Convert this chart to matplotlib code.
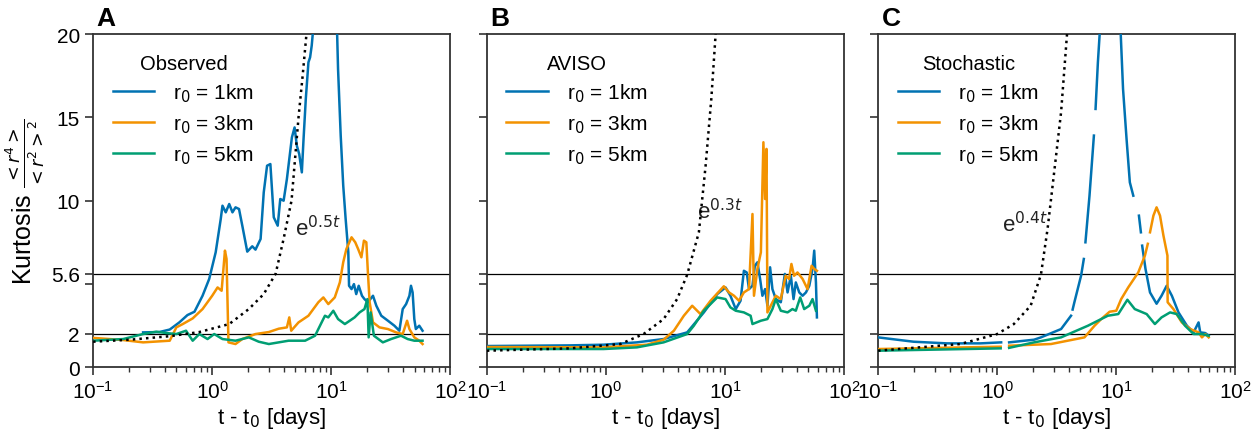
import numpy as np
import matplotlib.pyplot as plt

plt.rcParams['font.family'] = ['Liberation Sans', 'DejaVu Sans']
plt.rcParams['mathtext.fontset'] = 'dejavusans'

nan = np.nan

# ---- Panel A: observed drifters ----
obs_t_1km = [0.263, 0.36, 0.44, 0.53, 0.62, 0.71, 0.83, 0.944, 1.07, 1.18, 1.22, 1.30, 1.39, 1.48,
             1.57, 1.68, 1.79, 1.97, 2.17, 2.31, 2.55, 2.71, 2.89, 3.08, 3.29, 3.55, 3.73, 3.98,
             4.24, 4.67, 4.92, 5.14, 5.38, 5.66, 5.85, 6.11, 6.43, 6.64, 6.85, 7.3, 8.5, 10.5,
             11.2, 11.4, 12.0, 12.6, 13.2, 13.9, 14.1, 14.8, 15.5, 16.2, 17.0, 18.1, 19.0, 20.3,
             22.4, 23.9, 26.3, 29.9, 33.9, 37.3, 39.8, 42.5, 45.3, 46.7, 48.2, 49.8, 51.3, 54.8, 58.4]
obs_k_1km = [2.08, 2.1, 2.25, 2.68, 3.12, 3.32, 4.28, 5.29, 6.89, 8.89, 9.69, 9.29, 9.79, 9.29,
             9.59, 9.49, 8.49, 6.93, 7.25, 7.05, 7.69, 10.49, 12.09, 12.19, 8.99, 8.49, 10.09, 9.99,
             11.29, 13.79, 14.39, 13.29, 12.79, 11.69, 13.69, 16.1, 18.3, 18.6, 19.3, 21.5, 26.0, 24.0,
             20.0, 17.9, 13.9, 10.9, 8.9, 6.9, 4.88, 4.68, 4.98, 4.38, 4.88, 4.28, 4.08, 3.89,
             4.28, 3.68, 3.08, 2.78, 2.48, 2.18, 3.48, 3.78, 4.28, 4.88, 4.48, 2.88, 2.28, 2.48, 2.18]

obs_t_3km = [0.1, 0.179, 0.263, 0.44, 0.50, 0.566, 0.686, 0.83, 1.0, 1.11, 1.2, 1.28, 1.32, 1.37,
             1.57, 1.79, 2.31, 2.99, 3.62, 4.24, 4.44, 4.61, 5.31, 6.43, 7.79, 8.58, 9.44, 10.7,
             11.8, 12.6, 13.4, 14.8, 15.9, 16.8, 17.9, 18.8, 19.7, 20.3, 21.0, 22.4, 25.4, 29.9,
             35.0, 39.8, 43.3, 45.3, 49.8, 54.8, 58.4]
obs_k_3km = [1.75, 1.62, 1.48, 1.58, 2.38, 2.58, 2.92, 3.48, 4.28, 4.78, 4.58, 6.99, 6.49, 1.48,
             1.38, 1.68, 1.98, 2.1, 2.3, 2.38, 2.98, 2.18, 2.68, 3.08, 3.89, 4.18, 3.78, 4.18,
             5.08, 6.29, 7.09, 7.79, 7.49, 7.09, 6.59, 7.59, 7.49, 5.68, 3.88, 2.68, 2.38, 2.28,
             2.08, 1.98, 2.78, 2.28, 1.78, 1.58, 1.38]

obs_t_5km = [0.1, 0.179, 0.263, 0.339, 0.411, 0.50, 0.603, 0.686, 0.78, 0.914, 1.04, 1.22, 1.57,
             2.03, 2.46, 2.99, 4.38, 6.03, 7.31, 8.3, 8.85, 9.44, 10.4, 11.4, 13.0, 14.3, 15.7,
             17.3, 19.0, 20.1, 20.6, 21.4, 22.8, 27.1, 31.8, 38.5, 43.8, 49.8, 58.4]
obs_k_5km = [1.58, 1.68, 1.98, 2.12, 2.04, 1.98, 2.18, 1.58, 1.98, 1.68, 1.98, 1.68, 1.58,
             1.78, 1.52, 1.38, 1.58, 1.58, 1.88, 2.68, 3.08, 2.98, 3.38, 2.88, 2.58, 2.78, 2.98,
             3.28, 3.48, 4.08, 1.78, 3.28, 1.88, 1.48, 1.68, 1.88, 1.68, 1.58, 1.58]

obs_t_exp = [0.1, 0.204, 0.44, 0.78, 1.39, 2.03, 2.71, 3.41, 3.98, 4.64, 5.31, 5.75, 6.19, 6.4]
obs_k_exp = [1.52, 1.64, 1.85, 2.1, 2.58, 3.48, 4.38, 5.6, 7.7, 10.0, 15.0, 17.5, 20.0, 21.5]

# ---- Panel B: AVISO ----
avi_t_1km = [0.1, 0.5, 0.955, 1.82, 3.05, 4.81, 6.64, 8.6, 10.1, 11.1, 12.3, 13.5, 14.4, 15.2,
             15.9, 17.0, 17.8, 18.7, 19.7, 20.6, 21.7, 22.7, 23.9, 25.0, 26.7, 29.4, 31.8, 33.5,
             35.7, 37.6, 39.3, 42.0, 44.8, 47.8, 51.0, 54.3, 56.1, 58.0, 59.1]
avi_k_1km = [1.26, 1.3, 1.34, 1.48, 1.68, 2.08, 3.28, 4.38, 4.78, 4.28, 3.48, 3.98, 5.78, 5.68,
             4.68, 4.88, 6.08, 6.29, 5.29, 4.28, 4.68, 3.68, 5.99, 4.68, 4.08, 3.89, 5.59, 4.48,
             5.48, 4.08, 5.08, 4.48, 4.28, 4.48, 4.88, 5.89, 6.99, 5.08, 2.98]

avi_t_3km = [0.1, 0.955, 2.21, 3.05, 3.72, 4.51, 5.3, 6.22, 7.56, 9.77, 10.8, 11.9, 13.1, 14.4,
             15.9, 17.0, 17.5, 18.7, 20.0, 21.0, 21.7, 22.3, 22.7, 24.2, 26.7, 29.4, 32.3, 34.5,
             36.1, 38.0, 40.6, 44.8, 49.3, 53.3, 56.1, 59.1]
avi_k_3km = [1.2, 1.18, 1.34, 1.64, 2.18, 3.08, 3.68, 3.18, 3.98, 4.85, 4.48, 4.28, 3.98, 4.48,
             4.68, 9.19, 4.28, 5.89, 6.89, 13.5, 10.09, 13.1, 3.28, 3.68, 4.28, 4.08, 5.48, 5.29,
             6.19, 5.48, 5.68, 5.29, 4.68, 6.08, 5.89, 5.78]

avi_t_5km = [0.1, 0.955, 1.82, 3.05, 4.81, 5.47, 6.64, 8.6, 10.1, 11.1, 12.3, 14.4, 16.4, 17.0,
             20.0, 22.7, 25.0, 26.7, 29.4, 33.5, 36.8, 39.3, 42.8, 46.2, 51.0, 54.3, 58.0]
avi_k_5km = [1.08, 1.08, 1.18, 1.48, 1.98, 2.48, 3.38, 4.18, 4.08, 3.58, 3.38, 3.28, 3.08, 2.58,
             2.78, 2.88, 3.48, 4.08, 3.38, 3.28, 3.48, 3.38, 4.18, 3.48, 3.68, 4.08, 3.38]

avi_t_exp = [0.1, 0.5, 1.32, 2.07, 3.05, 3.96, 4.81, 6.03, 6.87, 7.67, 8.34, 8.6]
avi_k_exp = [0.98, 1.12, 1.38, 1.98, 2.88, 4.08, 5.54, 8.09, 12.09, 16.1, 20.0, 21.5]

# ---- Panel C: stochastic model (nan = gaps in the curves) ----
sto_t_1km = [0.1, 0.198, 0.378, 0.724, 1.08, nan, 1.26, 2.04, 2.33, 3.44, 4.17, nan, 4.3, 4.45,
             5.07, 5.34, nan, 5.51, 5.96, 6.49, nan, 6.70, 7.01, 7.24, 8.3, 10.0, 10.9, 11.4,
             12.2, 13.0, 13.9, nan, 15.5, 16.1, nan, 16.5, 17.6, 19.2, 21.8, 24.0, 26.5, 29.3,
             33.3, 39.2, 44.6, 49.1, 50.7, 55.9, 59.7]
sto_k_1km = [1.78, 1.52, 1.42, 1.42, 1.48, nan, 1.48, 1.64, 1.78, 2.28, 3.08, nan, 3.45, 3.89,
             5.5, 6.49, nan, 7.49, 10.29, 13.9, nan, 15.5, 18.3, 19.9, 26.0, 26.0, 20.0, 16.7,
             13.7, 11.09, 10.29, nan, 9.09, 8.09, nan, 7.29, 5.89, 4.48, 3.8, 4.28, 4.88, 4.28,
             3.28, 2.48, 2.08, 2.68, 2.08, 2.04, 1.88]

sto_t_3km = [0.1, 1.07, nan, 1.26, 2.83, 5.41, 6.57, 7.48, 8.79, 10.0, 11.0, 12.6, 15.3, 17.4,
             18.4, nan, 19.2, 20.5, 21.8, 23.3, 24.9, 26.9, 27.0, 30.2, 35.5, 41.7, 49.1, 52.4,
             55.9, 59.7]
sto_k_3km = [1.08, 1.22, nan, 1.28, 1.38, 1.78, 2.48, 2.88, 3.32, 3.38, 4.08, 4.78, 5.68, 6.69,
             7.4, nan, 8.09, 9.09, 9.59, 9.09, 7.89, 6.69, 3.89, 3.48, 2.68, 2.28, 2.08, 1.78,
             1.98, 1.78]

sto_t_5km = [0.1, 1.07, nan, 1.26, 2.04, 3.44, 5.78, 8.5, 10.4, 12.4, 14.3, 18.0, 21.1, 24.0,
             28.3, 32.2, 37.8, 44.6, 52.4, 59.7]
sto_k_5km = [0.98, 1.12, nan, 1.15, 1.48, 1.78, 2.48, 3.08, 3.18, 4.04, 3.48, 3.18, 2.58, 2.98,
             3.28, 3.18, 2.48, 1.98, 1.98, 1.88]

sto_t_exp = [0.1, 0.49, 1.0, 1.38, 1.91, 2.33, 2.65, 3.01, 3.44, 3.86, 4.0]
sto_k_exp = [0.98, 1.38, 1.98, 2.58, 3.68, 5.54, 8.3, 11.7, 15.3, 20.0, 21.5]

panel_letters = ['A', 'B', 'C']
panel_titles = ['Observed', 'AVISO', 'Stochastic']
exp_labels = [r'e$^{0.5t}$', r'e$^{0.3t}$', r'e$^{0.4t}$']
exp_label_pos = [(5.0, 8.4), (5.8, 9.4), (1.1, 8.6)]
r0_labels = [r'r$_0$ = 1km', r'r$_0$ = 3km', r'r$_0$ = 5km']
colors = ['#0072b2', '#f39200', '#009e73']

yticks = [0, 2, 5, 5.6, 10, 15, 20]
yticklabels = ['0', '2', '', '5.6', '10', '15', '20']
ref_levels = [2, 5.6]

panels = [
    [(obs_t_1km, obs_k_1km), (obs_t_3km, obs_k_3km), (obs_t_5km, obs_k_5km), (obs_t_exp, obs_k_exp)],
    [(avi_t_1km, avi_k_1km), (avi_t_3km, avi_k_3km), (avi_t_5km, avi_k_5km), (avi_t_exp, avi_k_exp)],
    [(sto_t_1km, sto_k_1km), (sto_t_3km, sto_k_3km), (sto_t_5km, sto_k_5km), (sto_t_exp, sto_k_exp)],
]

fig = plt.figure(figsize=(12.58, 4.35), dpi=100)
lefts = [0.074, 0.387, 0.698]
frame_col = '#333333'

for i, (left, curves) in enumerate(zip(lefts, panels)):
    ax = fig.add_axes([left, 0.154, 0.284, 0.7655])
    for level in ref_levels:
        ax.axhline(level, color='k', lw=0.9, zorder=1)
    for (t, k), c, lab in zip(curves[:3], colors, r0_labels):
        ax.plot(t, k, color=c, lw=1.8, label=lab, zorder=3)
    t_exp, k_exp = curves[3]
    ax.plot(t_exp, k_exp, color='k', ls=':', lw=1.8, zorder=4)
    ax.text(*exp_label_pos[i], exp_labels[i], fontsize=16, ha='left', va='center', color='#222222')

    ax.set_xscale('log')
    ax.set_xlim(0.1, 100)
    ax.set_ylim(0, 20)
    ax.set_yticks(yticks)
    if i == 0:
        ax.set_yticklabels(yticklabels)
        ax.set_ylabel(r'Kurtosis $\frac{<r^4>}{<r^2>^2}$', fontsize=18, labelpad=3)
    else:
        ax.set_yticklabels([])
    ax.set_xlabel(r't - t$_0$ [days]', fontsize=16, labelpad=2)
    ax.tick_params(axis='both', which='major', direction='out', length=6, width=1.2,
                   labelsize=15, color=frame_col)
    ax.tick_params(axis='x', which='minor', direction='out', length=3.5, width=1.0, color=frame_col)
    for sp in ax.spines.values():
        sp.set_color(frame_col)
        sp.set_linewidth(1.3)

    ax.text(0.01, 1.012, panel_letters[i], transform=ax.transAxes, fontsize=19,
            fontweight='bold', ha='left', va='bottom')

    ax.legend(loc='upper left', bbox_to_anchor=(0.055, 0.94), frameon=False,
              title=panel_titles[i], title_fontsize=14.5, fontsize=15,
              handlelength=2.0, handletextpad=0.9, labelspacing=0.4, borderaxespad=0,
              borderpad=0)

fig.savefig('out.png', dpi=100)
